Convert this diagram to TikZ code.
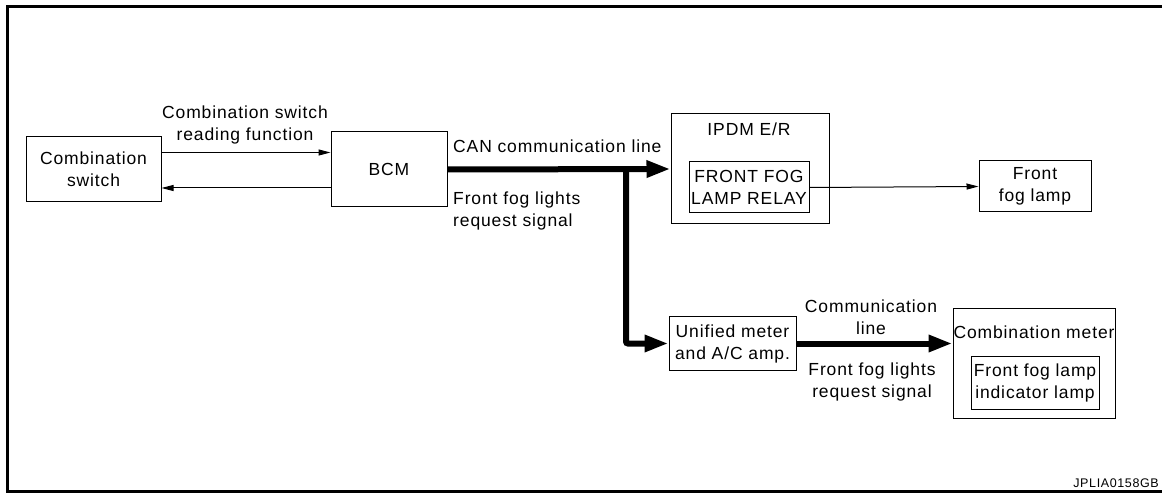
\documentclass[tikz,border=0pt]{standalone}
\usepackage{fontspec}
\setmainfont{Liberation Sans}[LetterSpace=5]
\usepackage{tikz}
\usetikzlibrary{arrows.meta,positioning,calc}

\tikzset{
  box/.style={draw, line width=1pt, align=center, inner sep=1pt},
  lbl/.style={align=center, inner sep=0pt},
  sig/.style={line width=1pt, -{Triangle[length=12pt,width=6pt]}},
  canline/.style={line width=6pt, -{Triangle[length=24pt,width=16pt]}},
}

\begin{document}
\begin{tikzpicture}[x=1pt, y=-1pt, every node/.style={font=\fontsize{17.5}{22}\selectfont}]
\useasboundingbox (0,0) rectangle (1162,494);
% frame
\draw[line width=3pt] (1162,6.5) -- (7.5,6.5) -- (7.5,491) -- (1162,491);

% blocks
\node[box, minimum width=135pt, minimum height=65pt] (cswitch) at (93.5,169.5) {Combination\\switch};
\node[box, minimum width=116pt, minimum height=75pt] (bcm) at (389,169.5) {BCM};
\node[box, minimum width=158pt, minimum height=110pt] (ipdm) at (750,169) {};
\node[lbl, anchor=north] (ipdmname) at (749,123) {IPDM E/R};
\node[box, minimum width=120pt, minimum height=51pt] (relay) at (749,187.5) {FRONT FOG\\LAMP RELAY};
\node[box, minimum width=112pt, minimum height=51pt] (foglamp) at (1035,186.5) {Front\\fog lamp};
\node[box, minimum width=127pt, minimum height=53pt] (umeter) at (732.5,343.5) {Unified meter\\and A/C amp.};
\node[box, minimum width=162pt, minimum height=109pt] (cmeter) at (1034,363.5) {};
\node[lbl, anchor=north] (cmetername) at (1034,326) {Combination meter};
\node[box, minimum width=128pt, minimum height=53pt] (indicator) at (1035,382.5) {Front fog lamp\\indicator lamp};

% connectors
\draw[sig] ([yshift=17pt]cswitch.east) -- ([yshift=17pt]cswitch.east -| bcm.west);
\draw[sig] ([yshift=-18.5pt]bcm.west) -- ([yshift=-18.5pt]bcm.west -| cswitch.east);
\draw[canline] (bcm.east) -- (ipdm.west);
\coordinate (tee) at (626,169.5);
\draw[canline, rounded corners=2pt] (tee) |- (umeter.west);
\draw[sig] (relay.east) -- (foglamp.west);
\draw[canline] (umeter.east) -- (umeter.east -| cmeter.west);

% labels
\node[lbl, anchor=north] (readlbl) at (245,106) {Combination switch\\reading function};
\node[lbl, anchor=north west] (canlbl) at (453,140) {CAN communication line};
\node[lbl, align=left, anchor=north west] (reqlbl) at (453,192) {Front fog lights\\request signal};
\node[lbl, anchor=north] (commlbl) at (871,300) {Communication\\line};
\node[lbl, anchor=north] (reqlbl2) at (872,363) {Front fog lights\\request signal};
\node[lbl, anchor=base east, font=\fontsize{12.5}{14}\selectfont] (figid) at (1159,487) {JPLIA0158GB};
\end{tikzpicture}
\end{document}
